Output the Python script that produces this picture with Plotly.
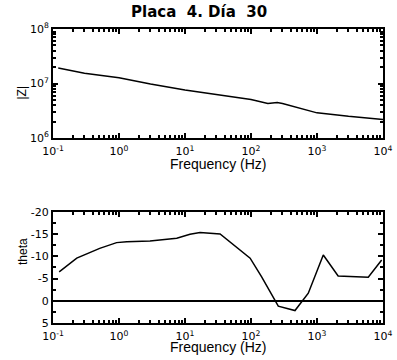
import plotly.graph_objects as go

# |Z| data
freq_z = [0.12, 0.3, 1.0, 3.0, 10, 30, 100, 180, 250, 300, 1000, 3000, 10000]
z_mag = [1.92e7, 1.55e7, 1.28e7, 9.8e6, 7.6e6, 6.2e6, 5.1e6, 4.3e6, 4.5e6, 4.3e6, 2.9e6, 2.5e6, 2.2e6]

# theta data
freq_t = [0.124, 0.229, 0.51, 0.92, 1.31, 2.95, 7.5, 11.9, 16.9, 34, 97, 145, 259, 464, 738, 1245, 2090, 5980, 9550]
theta = [-6.5, -9.6, -11.8, -13.1, -13.3, -13.45, -14.1, -15.0, -15.4, -15.05, -9.6, -5.4, 1.2, 2.2, -1.7, -10.3, -5.6, -5.3, -9.2]

x_tickvals = [0.1, 1, 10, 100, 1000, 10000]
x_ticktext = ["10<sup>-1</sup>", "10<sup>0</sup>", "10<sup>1</sup>", "10<sup>2</sup>", "10<sup>3</sup>", "10<sup>4</sup>"]
z_tickvals = [1e6, 1e7, 1e8]
z_ticktext = ["10<sup>6</sup>", "10<sup>7</sup>", "10<sup>8</sup>"]
t_tickvals = [-20, -15, -10, -5, 0, 5]
t_ticktext = ["-20", "-15", "-10", "-5", "0", "5"]

minor_x = [m * 10 ** k for k in range(-1, 4) for m in range(2, 10)]
minor_z = [m * 10 ** k for k in range(6, 8) for m in range(2, 10)]

FONT = "Liberation Sans, Arial, sans-serif"
TFONT = "DejaVu Sans, sans-serif"

fig = go.Figure()
fig.add_trace(go.Scatter(x=freq_z, y=z_mag, mode="lines", line=dict(color="black", width=1.5),
                         xaxis="x", yaxis="y", showlegend=False))
fig.add_trace(go.Scatter(x=freq_t, y=theta, mode="lines", line=dict(color="black", width=1.5),
                         xaxis="x2", yaxis="y2", showlegend=False))

axis_common = dict(showgrid=False, ticks="inside", ticklen=5, tickwidth=1.5, tickcolor="black",
                   showline=True, linecolor="black", linewidth=2, mirror="ticks", automargin=False,
                   tickfont=dict(family=TFONT, size=11, color="black"))

fig.update_layout(
    width=397, height=360,
    margin=dict(l=53, r=14, t=29, b=37),
    paper_bgcolor="white", plot_bgcolor="white",
    font=dict(family=FONT, color="black"),
    xaxis=dict(type="log", range=[-1, 4], domain=[0, 1], anchor="y",
               tickvals=x_tickvals, ticktext=x_ticktext, ticklabelstandoff=2,
               minor=dict(tickvals=minor_x, ticks="inside", ticklen=3, tickcolor="black"),
               **axis_common),
    yaxis=dict(type="log", range=[6, 8], domain=[0.629, 1], anchor="x",
               tickvals=z_tickvals, ticktext=z_ticktext,
               minor=dict(tickvals=minor_z, ticks="inside", ticklen=3, tickcolor="black"),
               **axis_common),
    xaxis2=dict(type="log", range=[-1, 4], domain=[0, 1], anchor="y2",
                tickvals=x_tickvals, ticktext=x_ticktext, ticklabelstandoff=2,
                minor=dict(tickvals=minor_x, ticks="inside", ticklen=3, tickcolor="black"),
                **axis_common),
    yaxis2=dict(range=[5, -20], domain=[0, 0.3776], anchor="x2",
                tickvals=t_tickvals, ticktext=t_ticktext,
                zeroline=True, zerolinecolor="black", zerolinewidth=1.5,
                minor=dict(dtick=2.5, ticks="inside", ticklen=3, tickcolor="black"),
                **axis_common),
    annotations=[
        dict(text="<b>Placa  4. Día  30</b>", xref="paper", yref="paper",
             x=(397 / 2 - 53) / (397 - 53 - 14), y=1 + (29 - 12) / (360 - 29 - 37),
             xanchor="center", yanchor="middle",
             showarrow=False, font=dict(family=TFONT, size=15)),
        dict(text="Frequency (Hz)", x=0.5, xref="paper", y=0.629, yref="paper", yshift=-26,
             yanchor="middle", showarrow=False, font=dict(family=FONT, size=14)),
        dict(text="Frequency (Hz)", x=0.5, xref="paper", y=0, yref="paper", yshift=-24,
             yanchor="middle", showarrow=False, font=dict(family=FONT, size=14)),
        dict(text="|Z|", x=0, xref="paper", xshift=-40, y=0.8145, yref="paper",
             textangle=-90, showarrow=False, font=dict(family=FONT, size=12)),
        dict(text="theta", x=0, xref="paper", xshift=-39, y=0.1888, yref="paper",
             textangle=-90, showarrow=False, font=dict(family=FONT, size=12)),
    ],
)

fig.write_html("out.html", config={"displayModeBar": False},
               post_script="document.body.style.margin='0px';")
